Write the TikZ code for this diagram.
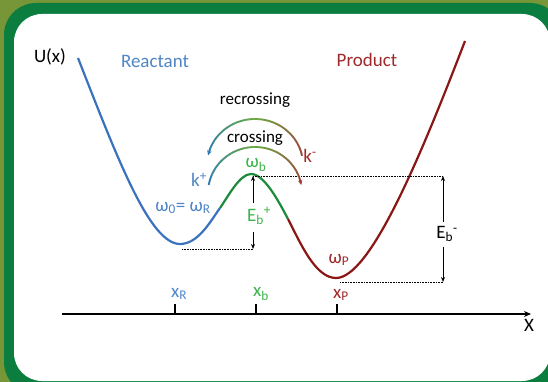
\documentclass[tikz,border=0pt]{standalone}
\usepackage{fontspec}
\setmainfont{Carlito}
\usetikzlibrary{arrows.meta}
\definecolor{olivebg}{HTML}{779637}
\definecolor{greenbd}{HTML}{0B7D3E}
\definecolor{cblue}{HTML}{3A72BE}
\definecolor{cgreen}{HTML}{1C8A3A}
\definecolor{cred}{HTML}{8B1616}
\definecolor{tblue}{HTML}{4F86C6}
\definecolor{tgreen}{HTML}{3CB44A}
\definecolor{tred}{HTML}{9E2A2B}
\definecolor{ablue}{HTML}{2A7AB8}
\definecolor{agreen}{HTML}{6AAA40}
\definecolor{ared}{HTML}{A0403A}
\begin{document}
\begin{tikzpicture}[x=1pt,y=-1pt,
  curve/.style={line width=2.2pt},
  lbl/.style={inner sep=0pt,font=\fontsize{19}{22}\selectfont},
  smalllbl/.style={inner sep=0pt,font=\fontsize{17}{20}\selectfont},
  dots/.style={line width=0.7pt,dash pattern=on 0.8pt off 0.8pt},
  energy/.style={line width=0.9pt,-{Stealth[length=5pt,width=4pt]}},
  tick/.style={line width=1.2pt}]
\useasboundingbox (0,0) rectangle (548,382);
% frame
\fill[olivebg] (0,0) rectangle (548,382);
\fill[greenbd, rounded corners=32pt] (4,3) rectangle (562,394);
\fill[white, rounded corners=28pt] (14,14) rectangle (550,381);

% potential curve
\draw[curve, cblue] (78,58) .. controls (118,160) and (150,244) .. (180,244)
   .. controls (198,244) and (210,222) .. (220,208);
\draw[curve, cgreen] (220,208) .. controls (229,195) and (240,174) .. (251,174)
   .. controls (264,174) and (278,200) .. (288,219);
\draw[curve, cred] (288,219) .. controls (300,242) and (315,278) .. (336,278)
   .. controls (370,278) and (420,158) .. (465,41);

% coordinates
\coordinate (peak) at (253,176);
\coordinate (rmin) at (253,249);
\coordinate (rminl) at (182,249);
\coordinate (pright) at (443,176);
\coordinate (pmin) at (443,282);
\coordinate (pminl) at (340,282);

% dotted guides
\draw[dots] (rminl) -- (rmin);
\draw[dots] (peak) -- (pright);
\draw[dots] (pminl) -- (pmin);

% energy arrows
\node[lbl, text=tgreen] (Ebp) at (259,216) {E\textsubscript{b}\textsuperscript{+}};
\draw[energy] (253,203) -- (peak);
\draw[energy] (253,232) -- (rmin);
\node[lbl] (Ebm) at (447,234) {E\textsubscript{b}\textsuperscript{-}};
\draw[energy] (443,222) -- (pright);
\draw[energy] (443,247) -- (pmin);

% gradient arcs
\foreach \a in {198,200,...,346}{
  \pgfmathtruncatemacro\pa{min(100,max(0,(\a+1-192)/78*100))}
  \pgfmathtruncatemacro\pb{min(100,max(0,(\a+1-270)/78*100))}
  \colorlet{segc}{agreen!\pa!ablue}
  \colorlet{segd}{ared!\pb!segc}
  \draw[segd, line width=1.8pt] ({255+48*cos(\a)},{165+46*sin(\a)}) -- ({255+48*cos(\a+2.4)},{165+46*sin(\a+2.4)});
}
\draw[ablue, line width=1.8pt, -{Stealth[length=5pt,width=4.5pt]}] ({255+48*cos(199)},{165+46*sin(199)}) -- ({255+48*cos(192)},{165+46*sin(192)});
\foreach \a in {190,192,...,344}{
  \pgfmathtruncatemacro\pa{min(100,max(0,(\a+1-190)/80*100))}
  \pgfmathtruncatemacro\pb{min(100,max(0,(\a+1-270)/80*100))}
  \colorlet{segc}{agreen!\pa!ablue}
  \colorlet{segd}{ared!\pb!segc}
  \draw[segd, line width=1.8pt] ({255+47*cos(\a)},{193+46*sin(\a)}) -- ({255+47*cos(\a+2.4)},{193+46*sin(\a+2.4)});
}
\draw[ared, line width=1.8pt, -{Stealth[length=5pt,width=4.5pt]}] ({255+47*cos(343)},{193+46*sin(343)}) -- ({255+47*cos(350)},{193+46*sin(350)});

% axis
\coordinate (ax0) at (62,314);
\coordinate (ax1) at (531,314);
\draw[line width=2pt, -{Stealth[length=7pt,width=6pt]}] (ax0) -- (ax1);
\coordinate (tR) at (175,314);
\coordinate (tb) at (256,314);
\coordinate (tP) at (337,314);
\draw[tick] (tR) -- ++(0,-10);
\draw[tick] (tb) -- ++(0,-10);
\draw[tick] (tP) -- ++(0,-10);

% labels
\node[lbl] (U) at (50,57) {U(x)};
\node[lbl, text=tblue] (reac) at (155,61) {Reactant};
\node[lbl, text=tred] (prod) at (367,60) {Product};
\node[smalllbl] (recr) at (255,100) {recrossing};
\node[smalllbl] (cros) at (255,138) {crossing};
\node[lbl, text=tblue] (kp) at (199,180) {k\textsuperscript{+}};
\node[lbl, text=tred] (km) at (310,156) {k\textsuperscript{-}};
\node[lbl, text=tgreen] (wb) at (256,165) {ω\textsubscript{b}};
\node[lbl, text=tblue] (w0) at (183,208) {ω\textsubscript{0}= ω\textsubscript{R}};
\node[lbl, text=tred] (wP) at (339,260) {ω\textsubscript{P}};
\node[lbl, text=tblue] (xR) at (179,294) {x\textsubscript{R}};
\node[lbl, text=tgreen] (xb) at (261,294) {x\textsubscript{b}};
\node[lbl, text=tred] (xP) at (341,295) {x\textsubscript{P}};
\node[lbl] (X) at (529,325) {X};
\end{tikzpicture}
\end{document}
